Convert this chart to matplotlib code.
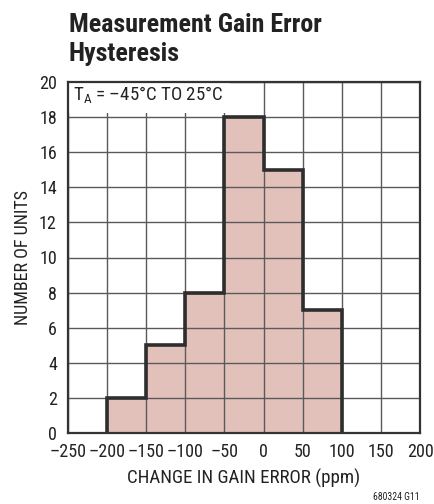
import numpy as np
import matplotlib.pyplot as plt

plt.rcParams['font.family'] = ['Roboto Condensed', 'DejaVu Sans']
plt.rcParams['mathtext.fontset'] = 'custom'
plt.rcParams['mathtext.rm'] = 'Roboto Condensed'
plt.rcParams['axes.unicode_minus'] = False

# histogram data
bin_edges = [-200, -150, -100, -50, 0, 50, 100]
counts = [2, 5, 8, 18, 15, 7]
xticks = [-250, -200, -150, -100, -50, 0, 50, 100, 150, 200]
xlabels = ['–250', '–200', '–150', '–100', '–50', '0', '50', '100', '150', '200']
yticks = [0, 2, 4, 6, 8, 10, 12, 14, 16, 18, 20]

W, H = 434, 504
fig = plt.figure(figsize=(W / 100, H / 100), dpi=100)
ax = fig.add_axes([68 / W, 1 - 433 / H, 352 / W, 351 / H])

widths = np.diff(bin_edges)
ax.bar(bin_edges[:-1], counts, width=widths, align='edge', color='#e3c1bb',
       edgecolor='none', zorder=1)
ax.stairs(counts, bin_edges, color='#2e2e2e', lw=2.6, zorder=3)

ax.set_xlim(-250, 200)
ax.set_ylim(0, 20)
ax.set_xticks(xticks)
ax.set_xticklabels(xlabels)
ax.set_yticks(yticks)
ax.tick_params(length=0, labelsize=13, colors='#222222')
ax.tick_params(axis='y', pad=8)
ax.tick_params(axis='x', pad=7)
ax.set_axisbelow(False)
ax.grid(True, color='#5a5a5a', lw=1, zorder=2)
for s in ax.spines.values():
    s.set_color('#333333')
    s.set_linewidth(1.6)
    s.set_zorder(4)

ax.set_xlabel('CHANGE IN GAIN ERROR (ppm)', fontsize=13.6, color='#222222', labelpad=6)
ax.set_ylabel('NUMBER OF UNITS', fontsize=13, color='#222222', labelpad=5)

ax.text(-244, 19.25, r'T$_{\mathregular{A}}$ = –45°C TO 25°C', fontsize=13.6,
        va='center', ha='left', color='#222222', zorder=3.5,
        bbox=dict(facecolor='white', edgecolor='none', pad=5))

fig.text(69 / W, 1 - 32 / H, 'Measurement Gain Error', fontsize=18.7,
         fontweight='bold', va='baseline', ha='left', color='#222222')
fig.text(69 / W, 1 - 61 / H, 'Hysteresis', fontsize=18.7,
         fontweight='bold', va='baseline', ha='left', color='#222222')
fig.text(420 / W, 1 - 500 / H, '680324 G11', fontsize=7, ha='right', va='baseline',
         color='#222222')

fig.savefig('out.png', dpi=100)
